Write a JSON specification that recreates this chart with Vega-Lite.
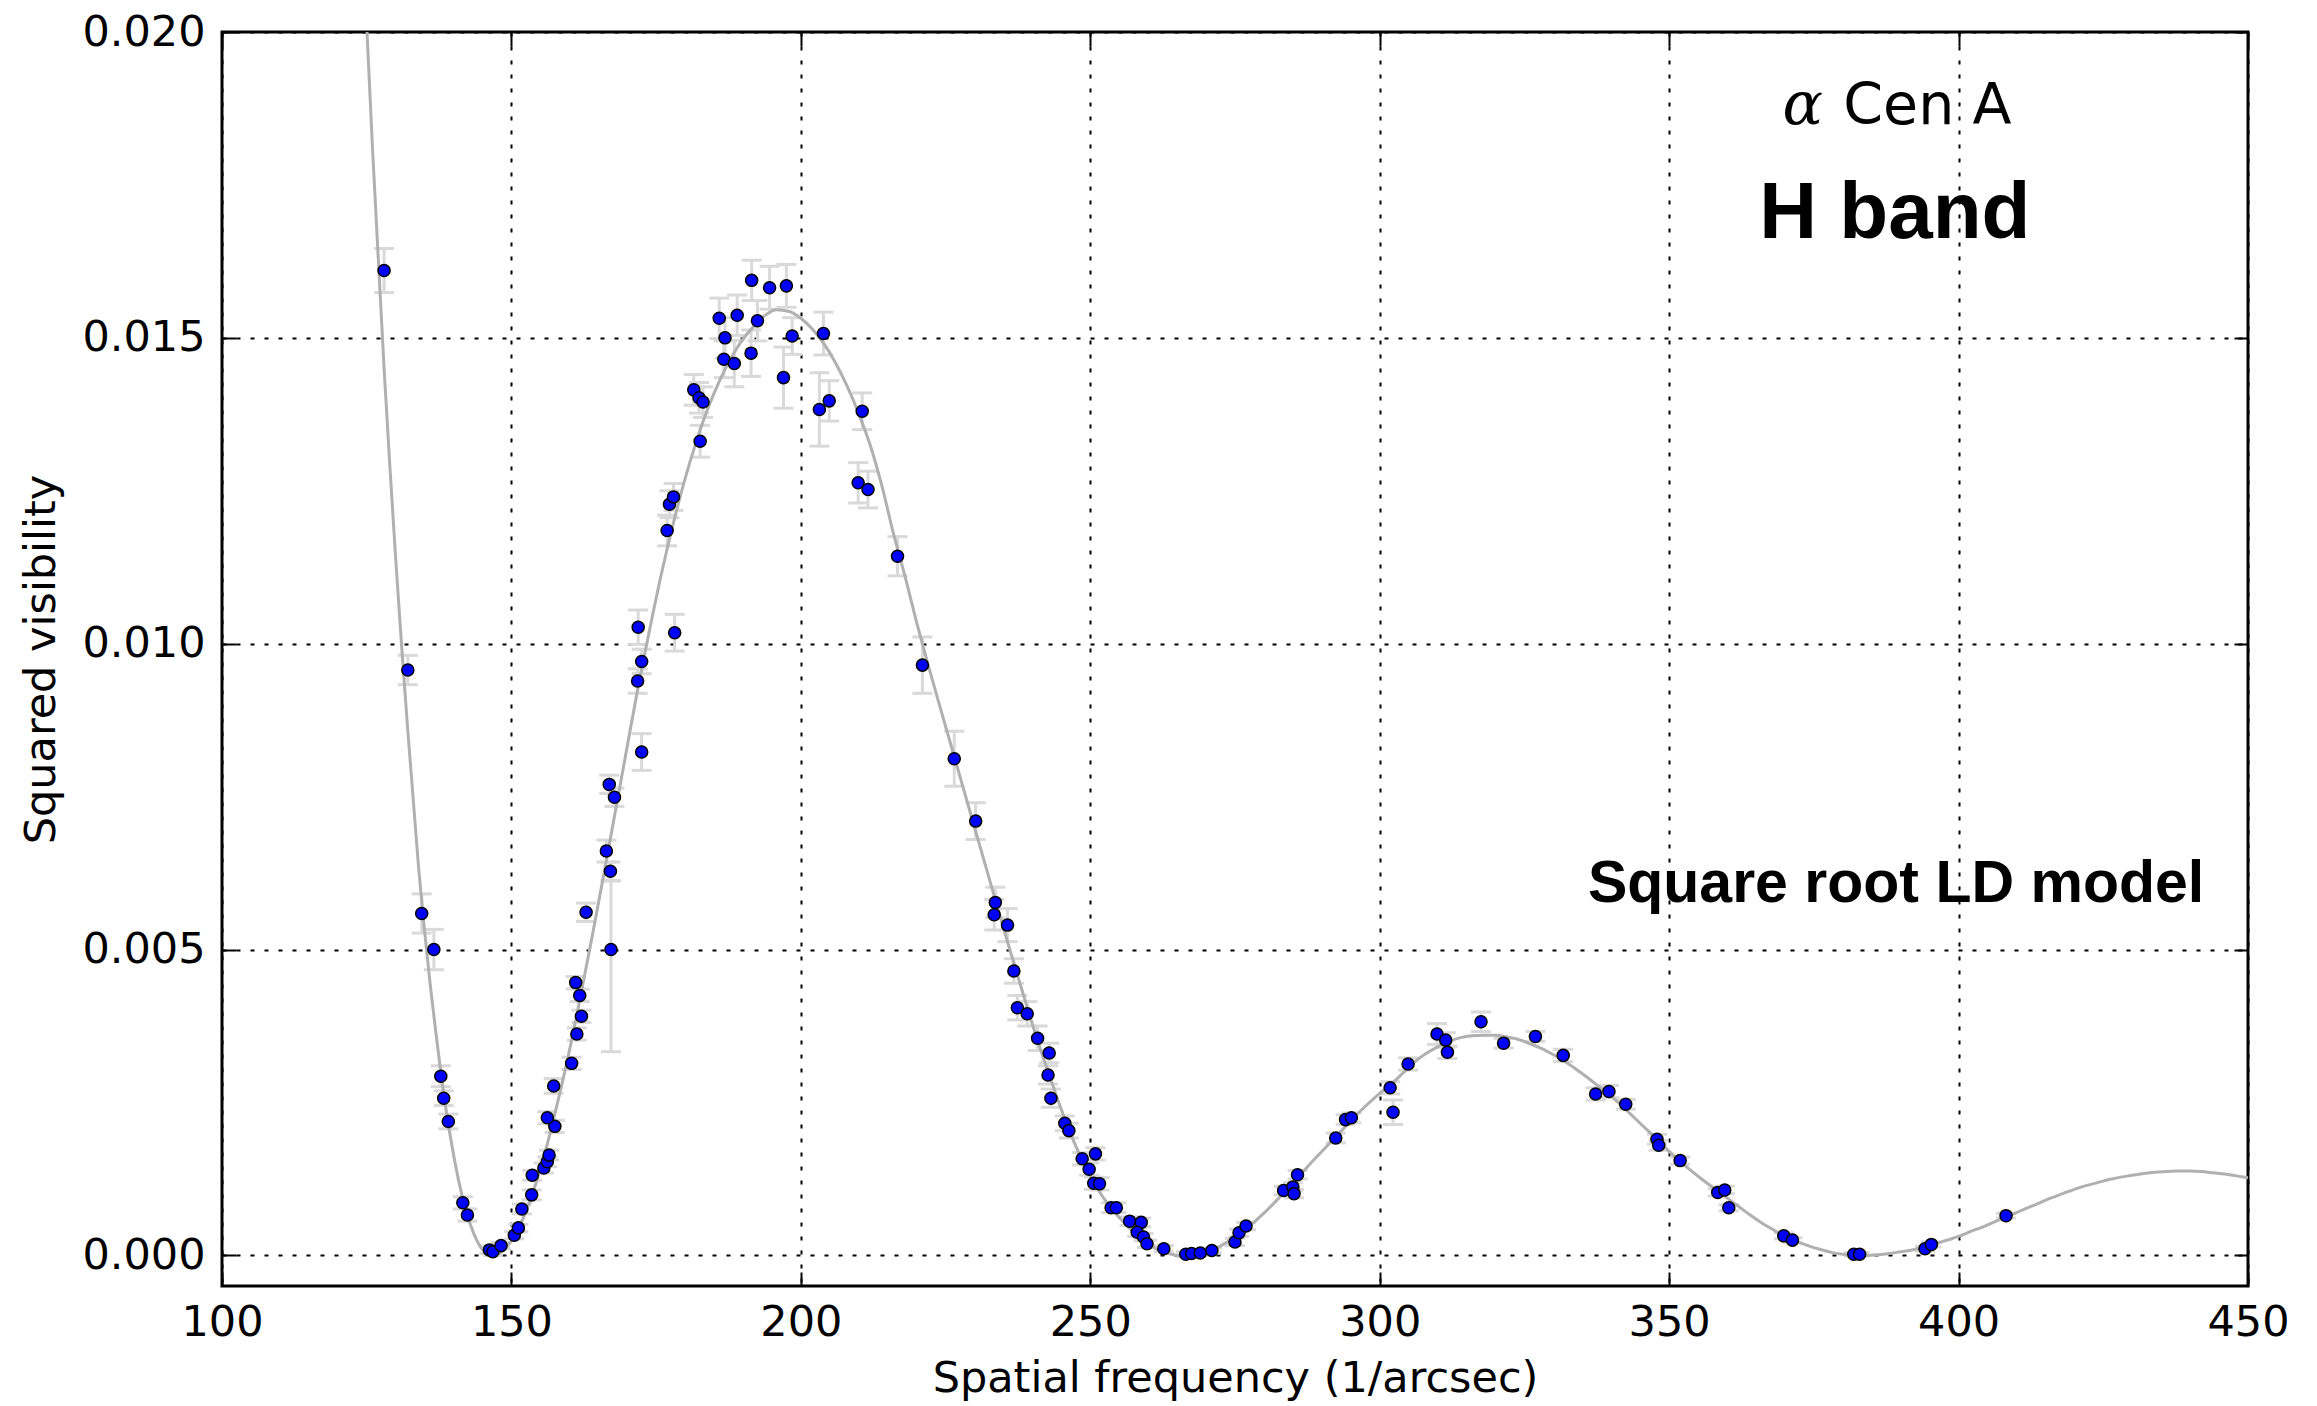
{
  "$schema": "https://vega.github.io/schema/vega-lite/v6.json",
  "autosize": {"type": "none"},
  "width": 2026,
  "height": 1254,
  "padding": {"left": 222, "top": 32, "right": 69, "bottom": 120},
  "background": "white",
  "config": {
    "view": {"stroke": "black", "strokeWidth": 3},
    "axis": {
      "labelFont": "DejaVu Sans", "labelFontSize": 43, "labelColor": "black",
      "titleFont": "DejaVu Sans", "titleFontSize": 43, "titleFontWeight": "normal", "titleColor": "black",
      "tickColor": "black", "tickWidth": 2, "domain": false,
      "gridColor": "black", "gridDash": [4, 10], "gridWidth": 2, "gridOpacity": 1,
      "labelFlush": false, "labelOverlap": false, "labelBound": false
    }
  },
  "datasets": {
    "obs": [
      {"x":128.0,"y":0.0161,"lo":0.01574,"hi":0.01646},
      {"x":132.1,"y":0.00957,"lo":0.00933,"hi":0.00981},
      {"x":134.5,"y":0.00559,"lo":0.00527,"hi":0.00591},
      {"x":136.6,"y":0.005,"lo":0.00467,"hi":0.00533},
      {"x":137.8,"y":0.00293,"lo":0.00276,"hi":0.0031},
      {"x":138.3,"y":0.00257,"lo":0.00245,"hi":0.00269},
      {"x":139.1,"y":0.00219,"lo":0.00207,"hi":0.00231},
      {"x":141.6,"y":0.00086,"lo":0.00076,"hi":0.00096},
      {"x":142.4,"y":0.00066,"lo":0.00056,"hi":0.00076},
      {"x":146.2,"y":0.00009,"lo":0.00003,"hi":0.00015},
      {"x":146.8,"y":0.00006,"lo":0.0,"hi":0.00012},
      {"x":148.2,"y":0.00016,"lo":0.00011,"hi":0.00021},
      {"x":150.5,"y":0.00033,"lo":0.00027,"hi":0.00039},
      {"x":151.2,"y":0.00045,"lo":0.00039,"hi":0.00051},
      {"x":151.8,"y":0.00076,"lo":0.00068,"hi":0.00084},
      {"x":153.5,"y":0.00099,"lo":0.00091,"hi":0.00107},
      {"x":153.6,"y":0.00131,"lo":0.00123,"hi":0.00139},
      {"x":155.6,"y":0.00143,"lo":0.00135,"hi":0.00151},
      {"x":156.2,"y":0.00153,"lo":0.00145,"hi":0.00161},
      {"x":156.5,"y":0.00164,"lo":0.00156,"hi":0.00172},
      {"x":157.5,"y":0.00211,"lo":0.00201,"hi":0.00221},
      {"x":156.2,"y":0.00225,"lo":0.00215,"hi":0.00235},
      {"x":157.3,"y":0.00277,"lo":0.00265,"hi":0.00289},
      {"x":160.4,"y":0.00314,"lo":0.00304,"hi":0.00324},
      {"x":161.3,"y":0.00362,"lo":0.00352,"hi":0.00372},
      {"x":162.1,"y":0.00391,"lo":0.00381,"hi":0.00401},
      {"x":161.8,"y":0.00425,"lo":0.00415,"hi":0.00435},
      {"x":161.1,"y":0.00446,"lo":0.00436,"hi":0.00456},
      {"x":162.9,"y":0.00561,"lo":0.00546,"hi":0.00576},
      {"x":167.2,"y":0.005,"lo":0.00333,"hi":0.00612},
      {"x":166.4,"y":0.00661,"lo":0.00643,"hi":0.00679},
      {"x":167.1,"y":0.00628,"lo":0.00613,"hi":0.00643},
      {"x":166.9,"y":0.0077,"lo":0.00755,"hi":0.00785},
      {"x":167.8,"y":0.00749,"lo":0.00734,"hi":0.00764},
      {"x":171.9,"y":0.01027,"lo":0.00999,"hi":0.01055},
      {"x":171.8,"y":0.00939,"lo":0.00919,"hi":0.00959},
      {"x":172.5,"y":0.00971,"lo":0.00951,"hi":0.00991},
      {"x":172.5,"y":0.00823,"lo":0.00793,"hi":0.00853},
      {"x":176.9,"y":0.01185,"lo":0.0116,"hi":0.0121},
      {"x":177.3,"y":0.01228,"lo":0.01206,"hi":0.0125},
      {"x":178.0,"y":0.0124,"lo":0.01218,"hi":0.01262},
      {"x":178.2,"y":0.01018,"lo":0.00988,"hi":0.01048},
      {"x":181.5,"y":0.01415,"lo":0.0139,"hi":0.0144},
      {"x":182.4,"y":0.01402,"lo":0.01377,"hi":0.01427},
      {"x":183.1,"y":0.01395,"lo":0.0137,"hi":0.0142},
      {"x":182.6,"y":0.01331,"lo":0.01305,"hi":0.01357},
      {"x":185.9,"y":0.01532,"lo":0.01499,"hi":0.01565},
      {"x":186.9,"y":0.015,"lo":0.01467,"hi":0.01533},
      {"x":186.7,"y":0.01465,"lo":0.01435,"hi":0.01495},
      {"x":188.5,"y":0.01458,"lo":0.0142,"hi":0.01496},
      {"x":189.0,"y":0.01537,"lo":0.01504,"hi":0.0157},
      {"x":191.4,"y":0.01475,"lo":0.01437,"hi":0.01513},
      {"x":191.5,"y":0.01594,"lo":0.01561,"hi":0.01627},
      {"x":192.5,"y":0.01528,"lo":0.01495,"hi":0.01561},
      {"x":194.6,"y":0.01582,"lo":0.01547,"hi":0.01617},
      {"x":197.0,"y":0.01435,"lo":0.01385,"hi":0.01485},
      {"x":197.5,"y":0.01585,"lo":0.0155,"hi":0.0162},
      {"x":198.5,"y":0.01503,"lo":0.01473,"hi":0.01533},
      {"x":203.9,"y":0.01507,"lo":0.01472,"hi":0.01542},
      {"x":203.2,"y":0.01383,"lo":0.01323,"hi":0.01443},
      {"x":204.9,"y":0.01397,"lo":0.01364,"hi":0.0143},
      {"x":210.6,"y":0.0138,"lo":0.0135,"hi":0.0141},
      {"x":209.9,"y":0.01263,"lo":0.0123,"hi":0.01296},
      {"x":211.6,"y":0.01252,"lo":0.01222,"hi":0.01282},
      {"x":216.7,"y":0.01143,"lo":0.01111,"hi":0.01175},
      {"x":221.0,"y":0.00965,"lo":0.00919,"hi":0.01011},
      {"x":226.5,"y":0.00812,"lo":0.00767,"hi":0.00857},
      {"x":230.2,"y":0.0071,"lo":0.0068,"hi":0.0074},
      {"x":233.6,"y":0.00577,"lo":0.00552,"hi":0.00602},
      {"x":233.4,"y":0.00557,"lo":0.00532,"hi":0.00582},
      {"x":235.7,"y":0.0054,"lo":0.00513,"hi":0.00567},
      {"x":236.8,"y":0.00465,"lo":0.00445,"hi":0.00485},
      {"x":237.4,"y":0.00405,"lo":0.00385,"hi":0.00425},
      {"x":239.1,"y":0.00395,"lo":0.00375,"hi":0.00415},
      {"x":240.9,"y":0.00355,"lo":0.00335,"hi":0.00375},
      {"x":242.9,"y":0.00331,"lo":0.00315,"hi":0.00347},
      {"x":242.7,"y":0.00295,"lo":0.0028,"hi":0.0031},
      {"x":243.2,"y":0.00257,"lo":0.00242,"hi":0.00272},
      {"x":245.6,"y":0.00216,"lo":0.00204,"hi":0.00228},
      {"x":246.3,"y":0.00204,"lo":0.00192,"hi":0.00216},
      {"x":248.6,"y":0.00158,"lo":0.00148,"hi":0.00168},
      {"x":250.9,"y":0.00166,"lo":0.00156,"hi":0.00176},
      {"x":249.8,"y":0.00141,"lo":0.00131,"hi":0.00151},
      {"x":250.6,"y":0.00118,"lo":0.00108,"hi":0.00128},
      {"x":251.6,"y":0.00117,"lo":0.00107,"hi":0.00127},
      {"x":253.6,"y":0.00078,"lo":0.0007,"hi":0.00086},
      {"x":254.5,"y":0.00078,"lo":0.0007,"hi":0.00086},
      {"x":256.8,"y":0.00056,"lo":0.00049,"hi":0.00063},
      {"x":258.8,"y":0.00054,"lo":0.00047,"hi":0.00061},
      {"x":258.1,"y":0.00038,"lo":0.00031,"hi":0.00045},
      {"x":259.2,"y":0.0003,"lo":0.00024,"hi":0.00036},
      {"x":259.8,"y":0.00019,"lo":0.00013,"hi":0.00025},
      {"x":262.7,"y":0.00011,"lo":0.00006,"hi":0.00016},
      {"x":266.5,"y":0.00002,"lo":-0.00002,"hi":0.00006},
      {"x":267.5,"y":0.00003,"lo":-0.00001,"hi":0.00007},
      {"x":269.0,"y":0.00004,"lo":0.0,"hi":0.00008},
      {"x":271.0,"y":0.00008,"lo":0.00004,"hi":0.00012},
      {"x":275.0,"y":0.00022,"lo":0.00016,"hi":0.00028},
      {"x":275.7,"y":0.00037,"lo":0.00031,"hi":0.00043},
      {"x":276.9,"y":0.00048,"lo":0.00042,"hi":0.00054},
      {"x":283.4,"y":0.00106,"lo":0.00099,"hi":0.00113},
      {"x":285.0,"y":0.00112,"lo":0.00105,"hi":0.00119},
      {"x":285.2,"y":0.00101,"lo":0.00094,"hi":0.00108},
      {"x":285.8,"y":0.00132,"lo":0.00125,"hi":0.00139},
      {"x":292.4,"y":0.00192,"lo":0.00184,"hi":0.002},
      {"x":294.1,"y":0.00222,"lo":0.00214,"hi":0.0023},
      {"x":295.1,"y":0.00225,"lo":0.00217,"hi":0.00233},
      {"x":301.8,"y":0.00274,"lo":0.00264,"hi":0.00284},
      {"x":302.3,"y":0.00234,"lo":0.00214,"hi":0.00254},
      {"x":304.9,"y":0.00313,"lo":0.00303,"hi":0.00323},
      {"x":309.9,"y":0.00362,"lo":0.00345,"hi":0.00379},
      {"x":311.4,"y":0.00352,"lo":0.0034,"hi":0.00364},
      {"x":311.7,"y":0.00332,"lo":0.00322,"hi":0.00342},
      {"x":317.5,"y":0.00382,"lo":0.00366,"hi":0.00398},
      {"x":321.4,"y":0.00347,"lo":0.00339,"hi":0.00355},
      {"x":326.9,"y":0.00358,"lo":0.0035,"hi":0.00366},
      {"x":331.7,"y":0.00327,"lo":0.00317,"hi":0.00337},
      {"x":337.3,"y":0.00264,"lo":0.00254,"hi":0.00274},
      {"x":339.6,"y":0.00268,"lo":0.00258,"hi":0.00278},
      {"x":342.5,"y":0.00247,"lo":0.00239,"hi":0.00255},
      {"x":347.9,"y":0.0019,"lo":0.00182,"hi":0.00198},
      {"x":348.2,"y":0.0018,"lo":0.00172,"hi":0.00188},
      {"x":351.9,"y":0.00155,"lo":0.00149,"hi":0.00161},
      {"x":358.4,"y":0.00103,"lo":0.00097,"hi":0.00109},
      {"x":359.6,"y":0.00107,"lo":0.00101,"hi":0.00113},
      {"x":360.3,"y":0.00078,"lo":0.00073,"hi":0.00083},
      {"x":369.8,"y":0.00032,"lo":0.00027,"hi":0.00037},
      {"x":371.3,"y":0.00025,"lo":0.00021,"hi":0.00029},
      {"x":381.9,"y":0.00002,"lo":-0.00001,"hi":0.00005},
      {"x":382.9,"y":0.00002,"lo":-0.00001,"hi":0.00005},
      {"x":394.2,"y":0.00011,"lo":0.00007,"hi":0.00015},
      {"x":395.3,"y":0.00018,"lo":0.00014,"hi":0.00022},
      {"x":408.2,"y":0.00065,"lo":0.00061,"hi":0.00069}
    ],
    "model": [
      {"x":124,"y":0.0222},{"x":125,"y":0.0201},{"x":126,"y":0.0181},{"x":127,"y":0.0163},
      {"x":128,"y":0.0145},{"x":129,"y":0.0129},{"x":130,"y":0.0114},{"x":131,"y":0.01},
      {"x":132,"y":0.0087},{"x":133,"y":0.0075},{"x":134,"y":0.0063},{"x":135,"y":0.0053},
      {"x":136,"y":0.0044},{"x":137,"y":0.0036},{"x":138,"y":0.00285},{"x":139,"y":0.0022},
      {"x":140,"y":0.00165},{"x":141,"y":0.00117},{"x":142,"y":0.00079},{"x":143,"y":0.00048},
      {"x":144,"y":0.00025},{"x":145,"y":0.00009},{"x":146,"y":0.00001},{"x":146.6,"y":0.0},
      {"x":148,"y":0.00004},{"x":150,"y":0.00024},{"x":152,"y":0.0006},{"x":154,"y":0.00111},
      {"x":156,"y":0.00175},{"x":158,"y":0.00251},{"x":160,"y":0.00334},{"x":162,"y":0.00427},
      {"x":164,"y":0.00524},{"x":166,"y":0.00625},{"x":168,"y":0.00728},{"x":170,"y":0.00832},
      {"x":172,"y":0.00935},{"x":174,"y":0.01029},{"x":176,"y":0.01118},{"x":178,"y":0.01198},
      {"x":180,"y":0.0127},{"x":182,"y":0.01332},{"x":184,"y":0.01386},{"x":186,"y":0.01431},
      {"x":188,"y":0.01468},{"x":190,"y":0.01498},{"x":192,"y":0.0152},{"x":194,"y":0.01538},
      {"x":195.8,"y":0.01546},{"x":198,"y":0.01543},{"x":200,"y":0.01532},{"x":202,"y":0.01514},
      {"x":204,"y":0.0149},{"x":206,"y":0.01459},{"x":208,"y":0.01421},{"x":210,"y":0.01376},
      {"x":212,"y":0.01324},{"x":214,"y":0.01258},{"x":216,"y":0.0118},{"x":218,"y":0.0111},
      {"x":220,"y":0.01035},{"x":222,"y":0.00965},{"x":224,"y":0.00898},{"x":226,"y":0.00832},
      {"x":228,"y":0.00766},{"x":230,"y":0.007},{"x":232,"y":0.00634},{"x":234,"y":0.00568},
      {"x":236,"y":0.00503},{"x":238,"y":0.0044},{"x":240,"y":0.00378},{"x":242,"y":0.0032},
      {"x":244,"y":0.00265},{"x":246,"y":0.00213},{"x":248,"y":0.00168},{"x":250,"y":0.0013},
      {"x":252,"y":0.00098},{"x":254,"y":0.00073},{"x":256,"y":0.00052},{"x":258,"y":0.00034},
      {"x":260,"y":0.00019},{"x":262,"y":0.00008},{"x":264,"y":0.00002},{"x":265.5,"y":0.0},
      {"x":268,"y":0.00002},{"x":270,"y":0.00006},{"x":272,"y":0.00013},{"x":274,"y":0.00024},
      {"x":276,"y":0.00037},{"x":278,"y":0.00052},{"x":280,"y":0.00069},{"x":282,"y":0.00088},
      {"x":284,"y":0.00108},{"x":286,"y":0.00129},{"x":288,"y":0.0015},{"x":290,"y":0.0017},
      {"x":292,"y":0.0019},{"x":294,"y":0.0021},{"x":296,"y":0.0023},{"x":298,"y":0.00248},
      {"x":300,"y":0.00265},{"x":302,"y":0.0028},{"x":304,"y":0.00298},{"x":306,"y":0.00316},
      {"x":308,"y":0.0033},{"x":310,"y":0.00341},{"x":312,"y":0.0035},{"x":314,"y":0.00356},
      {"x":316,"y":0.00359},{"x":318,"y":0.0036},{"x":320,"y":0.0036},{"x":322,"y":0.00357},
      {"x":324,"y":0.00353},{"x":326,"y":0.00346},{"x":328,"y":0.00338},{"x":330,"y":0.00328},
      {"x":332,"y":0.00317},{"x":334,"y":0.00304},{"x":336,"y":0.0029},{"x":338,"y":0.00275},
      {"x":340,"y":0.0026},{"x":342,"y":0.00243},{"x":344,"y":0.00225},{"x":346,"y":0.00207},
      {"x":348,"y":0.00189},{"x":350,"y":0.0017},{"x":352,"y":0.00153},{"x":354,"y":0.00137},
      {"x":356,"y":0.00122},{"x":358,"y":0.00108},{"x":360,"y":0.00094},{"x":362,"y":0.0008},
      {"x":364,"y":0.00066},{"x":366,"y":0.00053},{"x":368,"y":0.00042},{"x":370,"y":0.00031},
      {"x":372,"y":0.00023},{"x":374,"y":0.00016},{"x":376,"y":0.0001},{"x":378,"y":0.00005},
      {"x":380,"y":0.00002},{"x":382,"y":0.000003},{"x":383.5,"y":0.0},{"x":386,"y":0.00001},
      {"x":388,"y":0.00003},{"x":390,"y":0.00006},{"x":392,"y":0.00009},{"x":394,"y":0.00014},
      {"x":396,"y":0.00019},{"x":398,"y":0.00025},{"x":400,"y":0.00031},{"x":402,"y":0.00039},
      {"x":404,"y":0.00046},{"x":406,"y":0.00054},{"x":408,"y":0.00062},{"x":410,"y":0.0007},
      {"x":412,"y":0.00078},{"x":414,"y":0.00086},{"x":416,"y":0.00094},{"x":418,"y":0.00101},
      {"x":420,"y":0.00108},{"x":422,"y":0.00114},{"x":424,"y":0.00119},{"x":426,"y":0.00124},
      {"x":428,"y":0.00128},{"x":430,"y":0.00131},{"x":432,"y":0.00134},{"x":434,"y":0.00136},
      {"x":436,"y":0.00137},{"x":438,"y":0.00138},{"x":440,"y":0.00138},{"x":442,"y":0.00137},
      {"x":444,"y":0.00135},{"x":446,"y":0.00133},{"x":448,"y":0.0013},{"x":450,"y":0.00127}
    ]
  },
  "resolve": {"axis": {"x": "independent", "y": "independent"}},
  "layer": [
    {
      "data": {"name": "obs"},
      "mark": {"type": "rule", "color": "#d9d9d9", "strokeWidth": 3},
      "encoding": {
        "x": {"field": "x", "type": "quantitative", "scale": {"domain": [100, 450], "nice": false, "zero": false}, "axis": null},
        "y": {"field": "lo", "type": "quantitative", "scale": {"domain": [-0.0005, 0.02], "nice": false, "zero": false}, "axis": null},
        "y2": {"field": "hi"}
      }
    },
    {
      "data": {"name": "obs"},
      "mark": {"type": "tick", "orient": "horizontal", "color": "#d9d9d9", "size": 20, "thickness": 3, "opacity": 1},
      "encoding": {
        "x": {"field": "x", "type": "quantitative", "axis": null},
        "y": {"field": "lo", "type": "quantitative", "axis": null}
      }
    },
    {
      "data": {"name": "obs"},
      "mark": {"type": "tick", "orient": "horizontal", "color": "#d9d9d9", "size": 20, "thickness": 3, "opacity": 1},
      "encoding": {
        "x": {"field": "x", "type": "quantitative", "axis": null},
        "y": {"field": "hi", "type": "quantitative", "axis": null}
      }
    },
    {
      "data": {"name": "model"},
      "mark": {"type": "line", "color": "#b0b0b0", "strokeWidth": 3, "interpolate": "monotone", "clip": true},
      "encoding": {
        "x": {"field": "x", "type": "quantitative", "axis": {"orient": "top", "labels": false, "title": null, "grid": false, "tickSize": -14, "values": [100, 150, 200, 250, 300, 350, 400, 450]}},
        "y": {"field": "y", "type": "quantitative", "axis": {"orient": "right", "labels": false, "title": null, "grid": false, "tickSize": -14, "values": [0, 0.005, 0.01, 0.015, 0.02]}}
      }
    },
    {
      "data": {"name": "obs"},
      "mark": {"type": "point", "shape": "circle", "filled": true, "color": "#0000ff", "stroke": "black", "strokeWidth": 1.5, "size": 145, "opacity": 1},
      "encoding": {
        "x": {"field": "x", "type": "quantitative", "axis": {"title": "Spatial frequency (1/arcsec)", "values": [100, 150, 200, 250, 300, 350, 400, 450], "format": "d", "grid": true, "tickSize": -14, "labelPadding": 29, "titlePadding": 13}},
        "y": {"field": "y", "type": "quantitative", "axis": {"title": "Squared visibility", "values": [0, 0.005, 0.01, 0.015, 0.02], "format": ".3f", "grid": true, "tickSize": -14, "labelPadding": 31, "titlePadding": 18}}
      }
    },
    {
      "data": {"values": [{}]},
      "mark": {"type": "text", "text": "α", "font": "DejaVu Serif", "fontStyle": "italic", "fontSize": 60, "align": "center", "baseline": "alphabetic", "color": "black"},
      "encoding": {
        "x": {"datum": 373.1, "type": "quantitative", "axis": null},
        "y": {"datum": 0.0185, "type": "quantitative", "axis": null}
      }
    },
    {
      "data": {"values": [{}]},
      "mark": {"type": "text", "text": "Cen A", "font": "DejaVu Sans", "fontSize": 57, "align": "center", "baseline": "alphabetic", "color": "black"},
      "encoding": {
        "x": {"datum": 394.6, "type": "quantitative", "axis": null},
        "y": {"datum": 0.0185, "type": "quantitative", "axis": null}
      }
    },
    {
      "data": {"values": [{}]},
      "mark": {"type": "text", "text": "H band", "font": "Liberation Sans", "fontWeight": "bold", "fontSize": 80, "align": "center", "baseline": "alphabetic", "color": "black"},
      "encoding": {
        "x": {"datum": 389.0, "type": "quantitative", "axis": null},
        "y": {"datum": 0.01664, "type": "quantitative", "axis": null}
      }
    },
    {
      "data": {"values": [{}]},
      "mark": {"type": "text", "text": "Square root LD model", "font": "Liberation Sans", "fontWeight": "bold", "fontSize": 59, "align": "center", "baseline": "alphabetic", "color": "black"},
      "encoding": {
        "x": {"datum": 389.2, "type": "quantitative", "axis": null},
        "y": {"datum": 0.00577, "type": "quantitative", "axis": null}
      }
    }
  ]
}
